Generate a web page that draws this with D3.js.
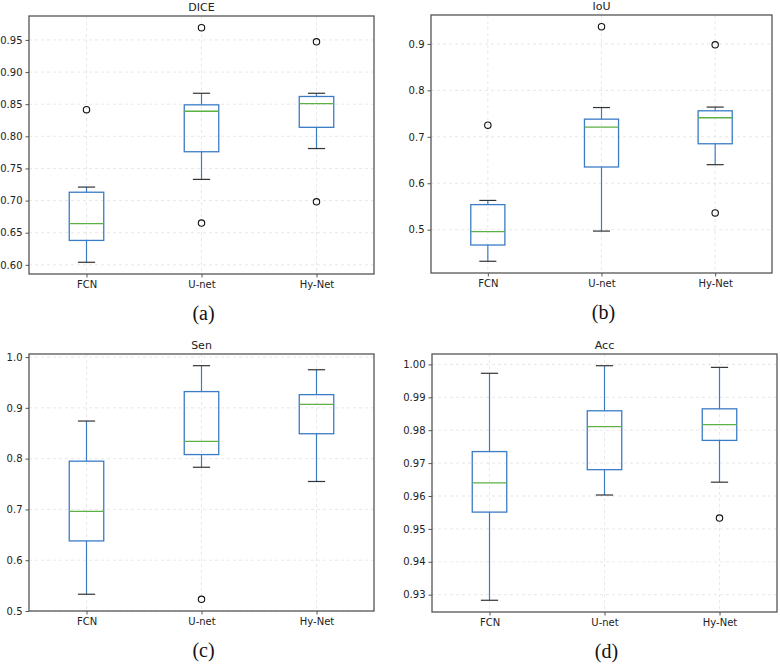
<!DOCTYPE html>
<html><head><meta charset="utf-8">
<script src="https://cdn.jsdelivr.net/npm/d3@7"></script>
<style>body{margin:0;background:#fff}svg{display:block}</style>
</head><body>
<svg id="c" width="780" height="664"></svg>
<script>
const models = ["FCN", "U-net", "Hy-Net"];
const titles = ["DICE", "IoU", "Sen", "Acc"];
const letters = ["(a)", "(b)", "(c)", "(d)"];
// [whisker low, Q1, median, Q3, whisker high] per model
const diceBoxes = [[0.604,0.638,0.664,0.713,0.721],[0.733,0.776,0.839,0.849,0.867],[0.781,0.814,0.851,0.862,0.867]];
const diceOutliers = [[0.8415],[0.969,0.665],[0.947,0.698]];
const iouBoxes = [[0.432,0.467,0.496,0.554,0.563],[0.497,0.635,0.721,0.738,0.763],[0.640,0.685,0.741,0.756,0.764]];
const iouOutliers = [[0.725],[0.937],[0.898,0.536]];
const senBoxes = [[0.533,0.638,0.696,0.795,0.874],[0.783,0.808,0.834,0.932,0.983],[0.755,0.849,0.907,0.926,0.975]];
const senOutliers = [[],[0.523],[]];
const accBoxes = [[0.9283,0.9551,0.9640,0.9735,0.9973],[0.9603,0.9680,0.9811,0.9859,0.9996],[0.9642,0.9769,0.9817,0.9865,0.9991]];
const accOutliers = [[],[],[0.9533]];
const diceTicks = [0.60,0.65,0.70,0.75,0.80,0.85,0.90,0.95];
const iouTicks = [0.5,0.6,0.7,0.8,0.9];
const senTicks = [0.5,0.6,0.7,0.8,0.9,1.0];
const accTicks = [0.93,0.94,0.95,0.96,0.97,0.98,0.99,1.00];

const panels = [
  {boxes: diceBoxes, out: diceOutliers, ticks: diceTicks, fmt: ".2f", x0: 29, x1: 374, y0: 16, y1: 274},
  {boxes: iouBoxes, out: iouOutliers, ticks: iouTicks, fmt: ".1f", x0: 431, x1: 772, y0: 15, y1: 273},
  {boxes: senBoxes, out: senOutliers, ticks: senTicks, fmt: ".1f", x0: 29, x1: 374, y0: 354, y1: 611},
  {boxes: accBoxes, out: accOutliers, ticks: accTicks, fmt: ".2f", x0: 432, x1: 777, y0: 354, y1: 612}
];

const svg = d3.select("#c");
const BLUE = "#3a7cc6", GREEN = "#5db043", CAP = "#333", SPINE = "#555";

panels.forEach((p, i) => {
  const all = p.boxes.flat().concat(p.out.flat());
  const [mn, mx] = d3.extent(all);
  const pad = (mx - mn) * 0.05;
  const y = d3.scaleLinear().domain([mn - pad, mx + pad]).range([p.y1, p.y0]);
  const x = d3.scaleLinear().domain([0.5, 3.5]).range([p.x0, p.x1]);
  const g = svg.append("g");

  // grid
  g.selectAll(".gy").data(p.ticks).join("line")
    .attr("x1", p.x0).attr("x2", p.x1).attr("y1", d => y(d)).attr("y2", d => y(d))
    .attr("stroke", "#e2e2e2").attr("stroke-width", 0.8).attr("stroke-dasharray", "3,3");
  g.selectAll(".gx").data(models).join("line")
    .attr("x1", (d, j) => x(j + 1)).attr("x2", (d, j) => x(j + 1)).attr("y1", p.y0).attr("y2", p.y1)
    .attr("stroke", "#e2e2e2").attr("stroke-width", 0.8).attr("stroke-dasharray", "3,3");

  // boxes
  const bw = 0.3, cw = 0.15;
  p.boxes.forEach((b, j) => {
    const c = j + 1;
    const [lo, q1, med, q3, hi] = b;
    g.append("line").attr("x1", x(c)).attr("x2", x(c)).attr("y1", y(q3)).attr("y2", y(hi)).attr("stroke", BLUE).attr("stroke-width", 1.2);
    g.append("line").attr("x1", x(c)).attr("x2", x(c)).attr("y1", y(q1)).attr("y2", y(lo)).attr("stroke", BLUE).attr("stroke-width", 1.2);
    g.append("line").attr("x1", x(c - cw / 2)).attr("x2", x(c + cw / 2)).attr("y1", y(hi)).attr("y2", y(hi)).attr("stroke", CAP).attr("stroke-width", 1.2);
    g.append("line").attr("x1", x(c - cw / 2)).attr("x2", x(c + cw / 2)).attr("y1", y(lo)).attr("y2", y(lo)).attr("stroke", CAP).attr("stroke-width", 1.2);
    g.append("rect").attr("x", x(c - bw / 2)).attr("width", x(c + bw / 2) - x(c - bw / 2))
      .attr("y", y(q3)).attr("height", y(q1) - y(q3)).attr("fill", "none").attr("stroke", BLUE).attr("stroke-width", 1.3);
    g.append("line").attr("x1", x(c - bw / 2)).attr("x2", x(c + bw / 2)).attr("y1", y(med)).attr("y2", y(med)).attr("stroke", GREEN).attr("stroke-width", 1.3);
    p.out[j].forEach(o => {
      g.append("circle").attr("cx", x(c)).attr("cy", y(o)).attr("r", 3.2).attr("fill", "none").attr("stroke", "#111").attr("stroke-width", 1.1);
    });
  });

  // spines
  g.append("rect").attr("x", p.x0).attr("y", p.y0).attr("width", p.x1 - p.x0).attr("height", p.y1 - p.y0)
    .attr("fill", "none").attr("stroke", SPINE).attr("stroke-width", 1.3);

  // axes
  const ya = d3.axisLeft(y).tickValues(p.ticks).tickFormat(d3.format(p.fmt)).tickSize(3.5).tickPadding(3);
  const yg = g.append("g").attr("transform", `translate(${p.x0},0)`).call(ya);
  const xa = d3.axisBottom(x).tickValues([1, 2, 3]).tickFormat(d => models[d - 1]).tickSize(3.5).tickPadding(3);
  const xg = g.append("g").attr("transform", `translate(0,${p.y1})`).call(xa);
  [yg, xg].forEach(a => {
    a.select(".domain").remove();
    a.selectAll(".tick line").attr("stroke", SPINE);
    a.selectAll("text").attr("font-family", "DejaVu Sans").attr("font-size", 10).attr("fill", "#222");
  });

  // title
  g.append("text").attr("x", (p.x0 + p.x1) / 2).attr("y", p.y0 - 5).attr("text-anchor", "middle")
    .attr("font-family", "DejaVu Sans").attr("font-size", 11).attr("fill", "#222").text(titles[i]);
  // letter
  g.append("text").attr("x", (p.x0 + p.x1) / 2 + 2).attr("y", p.y1 + 46).attr("text-anchor", "middle")
    .attr("font-family", "Liberation Serif").attr("font-size", 20).attr("fill", "#111").text(letters[i]);
});
</script>
</body></html>
